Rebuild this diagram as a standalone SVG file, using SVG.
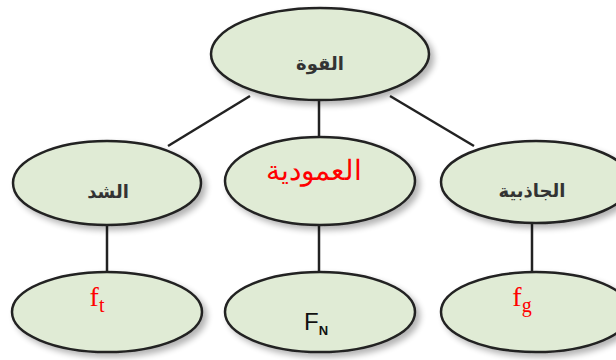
<svg xmlns="http://www.w3.org/2000/svg" width="616" height="360" viewBox="0 0 616 360">
<defs>
<filter id="sh" x="-20%" y="-20%" width="150%" height="160%">
<feGaussianBlur in="SourceAlpha" stdDeviation="3"/>
<feOffset dx="4" dy="4" result="b"/>
<feComponentTransfer><feFuncA type="linear" slope="0.3"/></feComponentTransfer>
<feMerge><feMergeNode/><feMergeNode in="SourceGraphic"/></feMerge>
</filter>
</defs>
<style>
.n{fill:#e0ebd5;stroke:#222;stroke-width:2.5;filter:url(#sh)}
.c{stroke:#222;stroke-width:2.5;fill:none}
.ar{font-family:"DejaVu Sans","Noto Sans",sans-serif;font-weight:bold;font-size:18px;fill:#333;text-anchor:middle}
.red{font-family:"Liberation Serif","DejaVu Serif",serif;fill:#ff0000;text-anchor:middle}
</style>
<rect width="616" height="360" fill="#ffffff"/>
<g id="connectors">
<line class="c" x1="250" y1="96" x2="168" y2="146"/>
<line class="c" x1="390" y1="96" x2="474" y2="146"/>
<line class="c" x1="319" y1="100" x2="319" y2="137"/>
<line class="c" x1="107" y1="224" x2="107" y2="272"/>
<line class="c" x1="319" y1="224" x2="319" y2="272"/>
<line class="c" x1="532" y1="222" x2="532" y2="272"/>
</g>
<g id="force">
<ellipse class="n" cx="320" cy="54" rx="109" ry="46"/>
<text class="ar" x="320" y="70" direction="rtl">القوة</text>
</g>
<g id="tension">
<ellipse class="n" cx="107" cy="183" rx="94" ry="42"/>
<text class="ar" x="108" y="198" direction="rtl">الشد</text>
</g>
<g id="normal">
<ellipse class="n" cx="320" cy="181" rx="95" ry="44"/>
<text x="314" y="180" font-family="'Liberation Serif','DejaVu Serif',serif" font-size="28" fill="#ff0000" text-anchor="middle" direction="rtl">العمودية</text>
</g>
<g id="gravity">
<ellipse class="n" cx="536" cy="182" rx="95" ry="41"/>
<text class="ar" x="532" y="197" direction="rtl" font-size="20">الجاذبية</text>
</g>
<g id="ft">
<ellipse class="n" cx="107" cy="312" rx="95" ry="40"/>
<text class="red" x="97" y="306" font-size="28">f<tspan font-size="20" dy="6">t</tspan></text>
</g>
<g id="fn">
<ellipse class="n" cx="320" cy="312" rx="95" ry="40"/>
<text x="316" y="330" font-family="'Liberation Sans',Arial,sans-serif" font-size="24" fill="#111" text-anchor="middle">F<tspan font-size="13" dy="5" font-weight="bold">N</tspan></text>
</g>
<g id="fg">
<ellipse class="n" cx="536" cy="312" rx="95" ry="40"/>
<text class="red" x="522" y="306" font-size="28">f<tspan font-size="20" dy="6">g</tspan></text>
</g>
</svg>
